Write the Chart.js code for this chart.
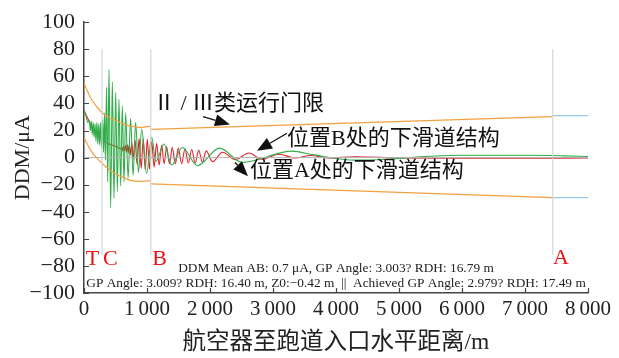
<!DOCTYPE html>
<html>
<head>
<meta charset="utf-8">
<script src="https://cdn.jsdelivr.net/npm/chart.js@4/dist/chart.umd.min.js"></script>
<style>
  html, body { margin: 0; padding: 0; background: #fff; }
  #wrap { width: 619px; height: 358px; }
</style>
</head>
<body>
<div id="wrap"><canvas id="c" width="619" height="358"></canvas></div>
<script>
// Axis ticks
const xTicks = [0, 1000, 2000, 3000, 4000, 5000, 6000, 7000, 8000];
const xTickLabels = ['0', '1\u2009000', '2\u2009000', '3\u2009000', '4\u2009000', '5\u2009000', '6\u2009000', '7\u2009000', '8\u2009000'];
const yTicks = [-100, -80, -60, -40, -20, 0, 20, 40, 60, 80, 100];
const yTickLabels = ['\u2212100', '\u221280', '\u221260', '\u221240', '\u221220', '0', '20', '40', '60', '80', '100'];

// Glide path structure at position A (green), [distance m, DDM µA]
const ddmPosA = [
  [0,35],[30,31],[60,26],[85,27],[100,20],[115,27],[130,17],[145,26],[160,15],[175,25],
  [190,12],[205,26],[220,10],[235,25],[250,9],[265,26],[280,7],[295,28],[310,4],[325,33],
  [340,-2],[358,52],[376,-18],[397,65],[423,-37],[450,56],[476,-30],[503,48],[529,-25],[555,43],
  [582,-21],[608,38],[635,-18],[661,33],[700,-15],[740,29],[780,-13],[820,26],[865,-11],[915,21],
  [995,-11.5],[1074,15],[1140,-3],[1270,10],[1392,-5.5],[1560,7.5],[1800,-6],[2150,7],[2510,-3.5],
  [3300,4.8],[3650,2],[4300,-1.9],[4800,-1.2],[5400,0.8],[6100,1.7],[7000,1.7],[7600,1.3],[8000,0.8]
];

// Glide path structure at position B (red)
const ddmPosB = [
  [0,35],[40,31],[80,27],[120,22.5],[160,19.5],[220,16],[300,12.5],[380,10.5],[460,9],[540,7.5],
  [580,6.5],[600,8],[615,5],[630,8.5],[645,5],[660,9],[675,4],[690,9.5],[705,3.5],[720,10],
  [740,2],[760,11],[780,-1],[810,13],[843,-5],[875,14],[908,-8],[940,14],[972,-9],[1005,13.5],
  [1040,-8.5],[1074,12],[1113,-7],[1153,10.5],[1193,-5.5],[1233,9],[1272,-4.5],[1312,8],[1356,-4.5],[1401,7.5],
  [1450,-4.5],[1497,7],[1550,-4.5],[1603,6.5],[1655,-4],[1710,6],[1765,-4],[1820,5.5],[1880,-3.5],[1940,5],
  [2040,-3],[2200,4],[2400,-1.5],[2620,3.4],[2820,-1.2],[3100,2.5],[3350,-0.3],[3600,1.5],[3900,-0.3],
  [4300,0.6],[5000,-0.3],[6000,-0.5],[7000,-0.5],[8000,-0.3]
];

// Category II/III tolerance limits
const limitUpperTC = [[0,55],[106,44],[212,37],[317,32],[420,29],[529,27],[640,24.5],[740,23.3],[900,22.3],[1060,23.3]];
const limitLowerTC = [[0,15],[106,5.3],[212,-0.7],[317,-5.5],[420,-9.5],[529,-12.7],[640,-15],[740,-16.8],[900,-17.5],[1060,-17]];
const limitUpperBA = [[1060,20.9],[7440,30.2]];
const limitLowerBA = [[1060,-19.4],[7440,-29.5]];
const limitUpperOut = [[7440,31],[8000,31]];
const limitLowerOut = [[7440,-29.5],[8000,-29.5]];

// Reference points along the approach (m)
const pointT = 286, pointB = 1060, pointA = 7440;
const markerSpan = [80, -72];

const summaryLines = [
  'DDM Mean AB: 0.7 \u03bcA, GP Angle: 3.003? RDH: 16.79 m',
  'GP Angle: 3.009? RDH: 16.40 m, Z0:\u22120.42 m  ||  Achieved GP Angle: 2.979? RDH: 17.49 m'
];

const toXY = arr => arr.map(([x, y]) => ({ x, y }));
const SERIF = '"Liberation Serif", "Times New Roman", "Noto Sans CJK SC", serif';
const ORANGE = '#f5a040', BLUE = '#92cbea', GREEN = '#30ad48', RED = '#e4202a', MARK = '#d3d8dd';

function lineSet(data, color, width, extra) {
  return Object.assign({
    data: toXY(data), borderColor: color, borderWidth: width,
    pointRadius: 0, fill: false, tension: 0
  }, extra || {});
}
const smooth = { cubicInterpolationMode: 'monotone' };

const datasets = [
  lineSet([[0,0],[8000,0]], '#b4b4b4', 1),
  lineSet([[pointT, markerSpan[0]],[pointT, markerSpan[1]]], MARK, 1.2),
  lineSet([[pointB, markerSpan[0]],[pointB, markerSpan[1]]], MARK, 1.2),
  lineSet([[pointA, markerSpan[0]],[pointA, markerSpan[1]]], MARK, 1.2),
  lineSet(limitUpperTC, ORANGE, 1.2, smooth),
  lineSet(limitLowerTC, ORANGE, 1.2, smooth),
  lineSet(limitUpperBA, ORANGE, 1.2),
  lineSet(limitLowerBA, ORANGE, 1.2),
  lineSet(limitUpperOut, BLUE, 1.2),
  lineSet(limitLowerOut, BLUE, 1.2),
  lineSet(ddmPosA, GREEN, 1.1, smooth),
  lineSet(ddmPosB, RED, 1.1, smooth)
];

// Inside tick marks on both axes
const insideTicks = {
  id: 'insideTicks',
  afterDraw(chart) {
    const { ctx, chartArea: a, scales: { x, y } } = chart;
    ctx.save();
    ctx.strokeStyle = '#444';
    ctx.lineWidth = 1.2;
    ctx.beginPath();
    xTicks.forEach(v => { const px = Math.round(x.getPixelForValue(v)) + 0.5; ctx.moveTo(px, a.bottom); ctx.lineTo(px, a.bottom - 5); });
    yTicks.forEach(v => { const py = Math.round(y.getPixelForValue(v)) + 0.5; ctx.moveTo(a.left, py); ctx.lineTo(a.left + 5, py); });
    ctx.stroke();
    ctx.restore();
  }
};

// Callout labels, arrows and summary text
const callouts = [
  { text: '\u2161 / \u2162\u7c7b\u8fd0\u884c\u95e8\u9650', x: 1095, y: 39.6, tail: [1889, 30.2], head: [2317, 24.5] },
  { text: '\u4f4d\u7f6eB\u5904\u7684\u4e0b\u6ed1\u9053\u7ed3\u6784', x: 3222, y: 13.7, tail: [3222, 18], head: [2746, 5] },
  { text: '\u4f4d\u7f6eA\u5904\u7684\u4e0b\u6ed1\u9053\u7ed3\u6784', x: 2634, y: -10, tail: [2396, -3.6], head: [2603, -13.7] }
];
const pointLabels = [
  { text: 'T', x: 135, y: -75 },
  { text: 'C', x: 420, y: -75 },
  { text: 'B', x: 1198, y: -75 },
  { text: 'A', x: 7570, y: -74.5 }
];
const summaryPos = [{ x: 4000, y: -82 }, { x: 4000, y: -92.7 }];

function arrow(ctx, x0, y0, x1, y1) {
  const ang = Math.atan2(y1 - y0, x1 - x0), len = 15, hw = 6;
  const bx = x1 - len * Math.cos(ang), by = y1 - len * Math.sin(ang);
  ctx.beginPath();
  ctx.moveTo(x0, y0); ctx.lineTo(bx, by); ctx.stroke();
  ctx.beginPath();
  ctx.moveTo(x1, y1);
  ctx.lineTo(bx + hw * Math.sin(ang), by - hw * Math.cos(ang));
  ctx.lineTo(bx - hw * Math.sin(ang), by + hw * Math.cos(ang));
  ctx.closePath(); ctx.fill();
}

const annotate = {
  id: 'annotate',
  afterDatasetsDraw(chart) {
    const { ctx, scales: { x, y } } = chart;
    ctx.save();
    ctx.fillStyle = '#111'; ctx.strokeStyle = '#111'; ctx.lineWidth = 1.3;
    ctx.font = '22px ' + SERIF;
    ctx.textAlign = 'left'; ctx.textBaseline = 'middle';
    callouts.forEach(c => {
      ctx.fillText(c.text, x.getPixelForValue(c.x), y.getPixelForValue(c.y));
      arrow(ctx, x.getPixelForValue(c.tail[0]), y.getPixelForValue(c.tail[1]),
                 x.getPixelForValue(c.head[0]), y.getPixelForValue(c.head[1]));
    });
    ctx.fillStyle = '#ee1111';
    ctx.textAlign = 'center';
    ctx.font = '22px ' + SERIF;
    pointLabels.forEach(p => ctx.fillText(p.text, x.getPixelForValue(p.x), y.getPixelForValue(p.y)));
    ctx.fillStyle = '#222';
    ctx.font = '13.35px ' + SERIF;
    summaryLines.forEach((t, i) => ctx.fillText(t, x.getPixelForValue(summaryPos[i].x), y.getPixelForValue(summaryPos[i].y)));
    ctx.restore();
  }
};

new Chart(document.getElementById('c'), {
  type: 'line',
  data: { datasets },
  plugins: [annotate, insideTicks],
  options: {
    responsive: false,
    animation: false,
    parsing: true,
    layout: { padding: { left: 0, right: 31, top: 15, bottom: 0 } },
    plugins: { legend: { display: false }, tooltip: { enabled: false } },
    scales: {
      x: {
        type: 'linear', min: 0, max: 8000,
        afterBuildTicks: s => { s.ticks = xTicks.map(v => ({ value: v })); },
        afterFit: s => { s.height = 65; },
        ticks: {
          callback: v => xTickLabels[xTicks.indexOf(v)],
          font: { family: SERIF, size: 21 }, color: '#222', padding: 4, maxRotation: 0, autoSkip: false
        },
        grid: { display: false, drawTicks: false },
        border: { display: true, color: '#444', width: 1.5 },
        title: {
          display: true, text: '\u822a\u7a7a\u5668\u81f3\u8dd1\u9053\u5165\u53e3\u6c34\u5e73\u8ddd\u79bb/m',
          font: { family: SERIF, size: 23.5 }, color: '#222', padding: { top: 0, bottom: 1 }
        }
      },
      y: {
        type: 'linear', min: -100, max: 100,
        afterBuildTicks: s => { s.ticks = yTicks.map(v => ({ value: v })); },
        afterFit: s => { s.width = 84; },
        ticks: {
          callback: v => yTickLabels[yTicks.indexOf(v)],
          font: { family: SERIF, size: 22 }, color: '#222', padding: 9, autoSkip: false
        },
        grid: { display: false, drawTicks: false },
        border: { display: true, color: '#444', width: 1.5 },
        title: {
          display: true, text: 'DDM/\u03bcA',
          font: { family: SERIF, size: 22 }, color: '#222', padding: { top: 10, bottom: 0 }
        }
      }
    }
  }
});
</script>
</body>
</html>
